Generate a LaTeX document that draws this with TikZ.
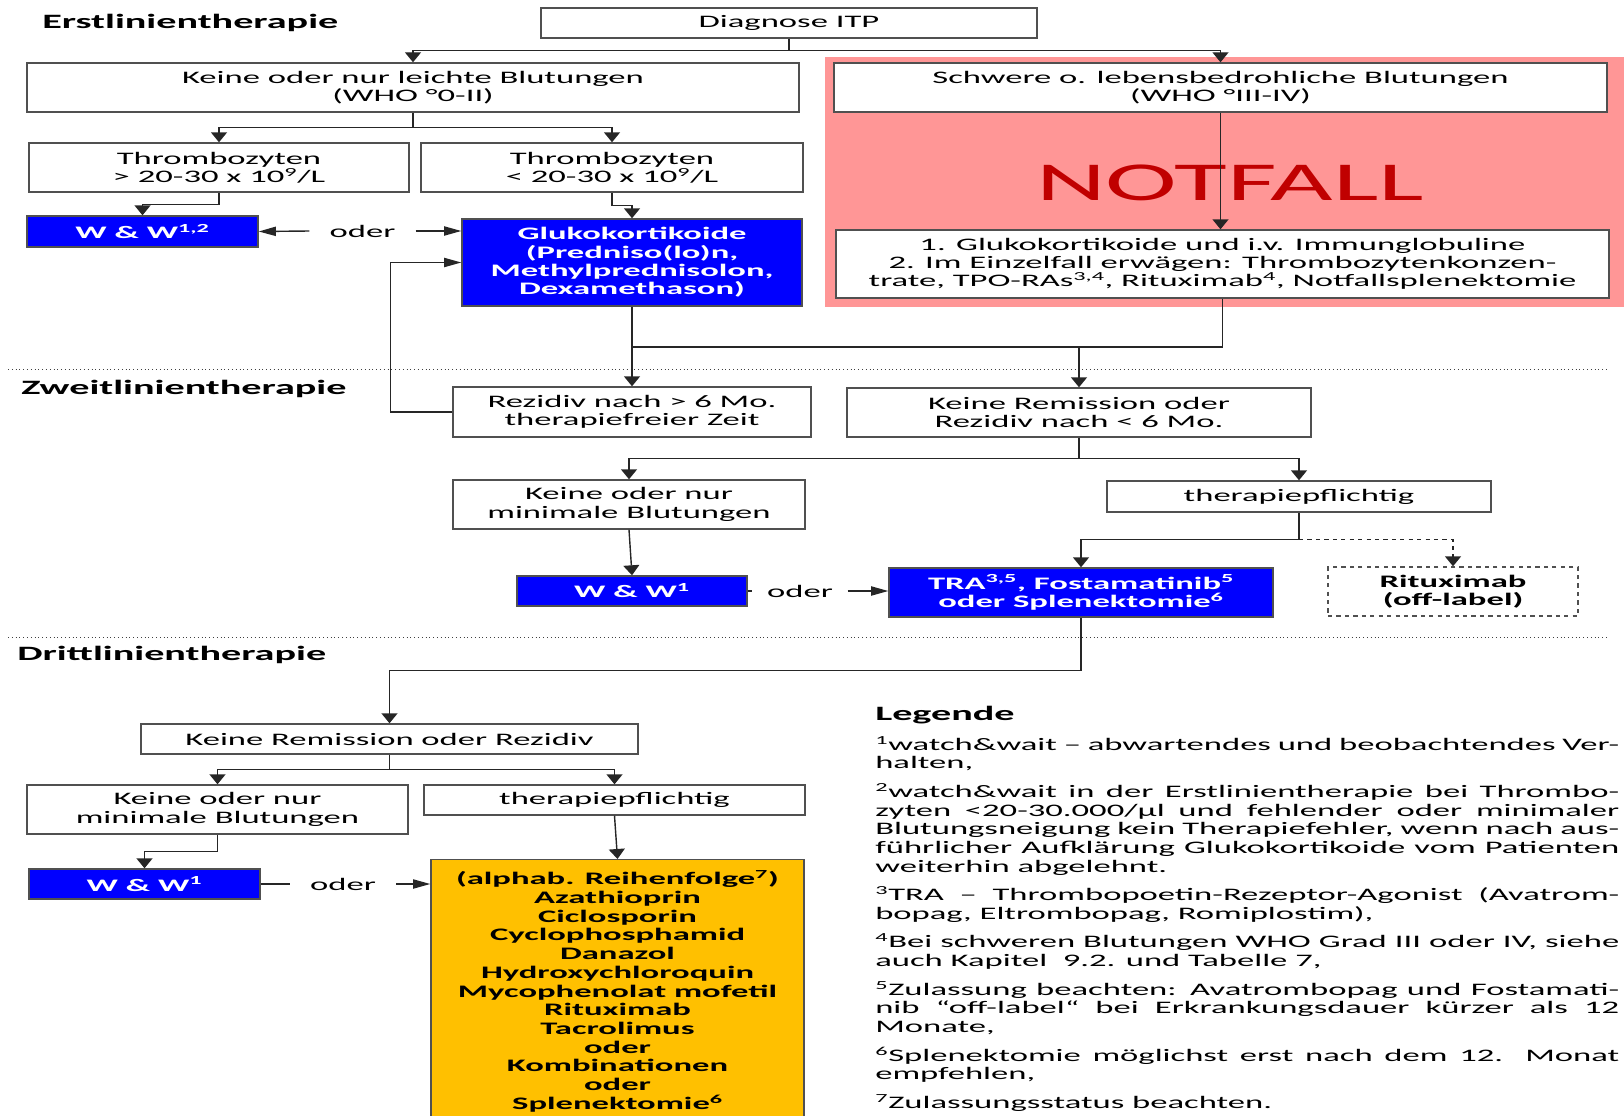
\documentclass[tikz,border=0pt]{standalone}
\usepackage{fontspec}
\setmainfont{Carlito}[FakeStretch=1.97]
\usetikzlibrary{arrows.meta, positioning, calc}
\definecolor{wwblue}{RGB}{0,0,255}
\definecolor{framegray}{RGB}{80,80,80}
\definecolor{notfallbg}{RGB}{255,150,150}
\definecolor{notfallred}{RGB}{192,0,0}
\definecolor{drittorange}{RGB}{255,192,0}
\newcommand{\boxfont}{\fontsize{12.5}{13}\selectfont}
\newlength{\legwidth}
\setlength{\legwidth}{186mm}

\begin{document}
\begin{tikzpicture}[
    x=0.25mm, y=-0.25mm,
    boxdim/.style 2 args={minimum width=#1*0.25mm, minimum height=#2*0.25mm},
    box/.style={
        rectangle,
        draw=framegray,
        line width=1pt,
        fill=white,
        align=center,
        inner sep=0pt,
        font=\boxfont
    },
    bluebox/.style={
        box,
        fill=wwblue,
        text=white,
        font=\boxfont\bfseries
    },
    drittbox/.style={
        box,
        fill=drittorange,
        anchor=north,
        inner ysep=11*0.25mm,
        font=\fontsize{12.5}{13.3}\selectfont\bfseries
    },
    phasetitle/.style={anchor=west, inner sep=0pt, font=\fontsize{14.5}{16}\selectfont\bfseries},
    oderlabel/.style={inner xsep=5mm, inner ysep=0pt, font=\boxfont},
    legendtext/.style={anchor=north west, inner sep=0pt, align=left, font=\fontsize{12.5}{13.25}\selectfont},
    line/.style={line width=1pt, draw=black!85},
    arrow/.style={line, -{Triangle[width=4mm,length=2.5mm]}},
    sidearrow/.style={line, -{Triangle[width=2.3mm,length=4.3mm]}},
    dasharrow/.style={arrow, dashed},
    sectionline/.style={dotted, line width=0.7pt, black!75}
]
\useasboundingbox (0,0) rectangle (1624,1115);

\node[phasetitle] (t1) at (42,23) {Erstlinientherapie};
\node[box, boxdim={496}{30}] (diag) at (789,23) {Diagnose ITP};
\node[box, boxdim={772}{49}] (leicht) at (413,87.5) {Keine oder nur leichte Blutungen\\(WHO °0-II)};
\node[fill=notfallbg, inner sep=0pt, boxdim={805}{250}] (area) at (1227.5,182) {};
\node[box, boxdim={773}{49}] (schwer) at (1220.5,87.5) {Schwere o. lebensbedrohliche Blutungen\\(WHO °III-IV)};
\node[font=\fontsize{39}{42}\selectfont, text=notfallred, inner sep=0pt] (notfalltxt) at (1230,183) {NOTFALL};
\node[box, boxdim={773}{68}] (notfall) at (1222.5,264) {1. Glukokortikoide und i.v. Immunglobuline\\2. Im Einzelfall erwägen: Thrombozytenkonzen-\\trate, TPO-RAs\textsuperscript{3,4}, Rituximab\textsuperscript{4}, Notfallsplenektomie};
\node[box, boxdim={380}{49}] (thrhigh) at (219,167.5) {Thrombozyten\\> 20-30 x 10\textsuperscript{9}/L};
\node[box, boxdim={382}{49}] (thrlow) at (612,167.5) {Thrombozyten\\< 20-30 x 10\textsuperscript{9}/L};
\node[bluebox, boxdim={231}{31}] (wwa) at (142.5,231.5) {W \& W\textsuperscript{1,2}};
\node[bluebox, boxdim={340}{87}] (gluko) at (632,262.5) {Glukokortikoide\\(Predniso(lo)n,\\Methylprednisolon,\\Dexamethason)};
\node[oderlabel] (odera) at (362.5,231) {oder};

\draw[sectionline] (8,369) -- (1607,369);
\node[phasetitle] (t2) at (21,389) {Zweitlinientherapie};
\node[box, boxdim={358}{50}] (rez6) at (632,412) {Rezidiv nach > 6 Mo.\\therapiefreier Zeit};
\node[box, boxdim={464}{49}] (krem6) at (1079,412.5) {Keine Remission oder\\Rezidiv nach < 6 Mo.};
\node[box, boxdim={352}{49}] (kminb) at (629,504.5) {Keine oder nur\\minimale Blutungen};
\node[box, boxdim={384}{31}] (thpfb) at (1299,496.5) {therapiepflichtig};
\node[bluebox, boxdim={230}{30}] (wwb) at (632,591) {W \& W\textsuperscript{1}};
\node[oderlabel, inner xsep=3.6mm] (oderb) at (800,591) {oder};
\node[bluebox, boxdim={384}{49}] (tra) at (1081,592.5) {TRA\textsuperscript{3,5}, Fostamatinib\textsuperscript{5}\\oder Splenektomie\textsuperscript{6}};
\node[box, dashed, boxdim={250}{49}, font=\boxfont\bfseries] (ritux) at (1453,591.5) {Rituximab\\(off-label)};

\draw[sectionline] (8,637) -- (1607,637);
\node[phasetitle] (t3) at (17,655) {Drittlinientherapie};
\node[box, boxdim={497}{30}] (krez) at (389.5,739) {Keine Remission oder Rezidiv};
\node[box, boxdim={381}{49}] (kminc) at (217.5,809.5) {Keine oder nur\\minimale Blutungen};
\node[box, boxdim={381}{30}] (thpfc) at (614.5,800) {therapiepflichtig};
\node[bluebox, boxdim={231}{30}] (wwc) at (144.5,884) {W \& W\textsuperscript{1}};
\node[oderlabel] (oderc) at (343,884) {oder};
\node[drittbox, minimum width=373*0.25mm] (dritt) at (617.5,859) {(alphab. Reihenfolge\textsuperscript{7})\\Azathioprin\\Ciclosporin\\Cyclophosphamid\\Danazol\\Hydroxychloroquin\\Mycophenolat mofetil\\Rituximab\\Tacrolimus\\oder\\Kombinationen\\oder\\Splenektomie\textsuperscript{6}};

\node[phasetitle] (leg) at (875,715) {Legende};
\node[legendtext] (legtxt) at (875,736) {%
\makebox[\legwidth][s]{\textsuperscript{1}watch\&wait – abwartendes und beobachtendes Ver-}\\
halten,\\[2.5mm]
\makebox[\legwidth][s]{\textsuperscript{2}watch\&wait in der Erstlinientherapie bei Thrombo-}\\
\makebox[\legwidth][s]{zyten <20-30.000/µl und fehlender oder minimaler}\\
\makebox[\legwidth][s]{Blutungsneigung kein Therapiefehler, wenn nach aus-}\\
\makebox[\legwidth][s]{führlicher Aufklärung Glukokortikoide vom Patienten}\\
weiterhin abgelehnt.\\[2.5mm]
\makebox[\legwidth][s]{\textsuperscript{3}TRA – Thrombopoetin-Rezeptor-Agonist (Avatrom-}\\
bopag, Eltrombopag, Romiplostim),\\[2.5mm]
\makebox[\legwidth][s]{\textsuperscript{4}Bei schweren Blutungen WHO Grad III oder IV, siehe}\\
auch Kapitel\ \ 9.2. und Tabelle 7,\\[2.5mm]
\makebox[\legwidth][s]{\textsuperscript{5}Zulassung beachten: Avatrombopag und Fostamati-}\\
\makebox[\legwidth][s]{nib “off-label“ bei Erkrankungsdauer kürzer als 12}\\
Monate,\\[2.5mm]
\makebox[\legwidth][s]{\textsuperscript{6}Splenektomie möglichst erst nach dem 12. Monat}\\
empfehlen,\\[2.5mm]
\textsuperscript{7}Zulassungsstatus beachten.};

\draw[arrow] (diag.south) -- ++(0,12) -| (leicht.north);
\draw[arrow] (diag.south) -- ++(0,12) -| (schwer.north);
\draw[arrow] (leicht.south) -- ++(0,15) -| (thrhigh.north);
\draw[arrow] (leicht.south) -- ++(0,15) -| (thrlow.north);
\draw[arrow] (thrhigh.south) -- ++(0,12) -| (wwa.north);
\draw[arrow] (thrlow.south) -- ++(0,13) -| (gluko.north);
\draw[sidearrow] (odera.west) -- (wwa.east);
\draw[sidearrow] (odera.east) -- (odera.east -| gluko.west);
\draw[arrow] (schwer.south) -- (schwer.south |- notfall.north);

\coordinate (jn) at (632,347);
\draw[arrow] (gluko.south) -- (rez6.north);
\draw[line] (notfall.south) |- (jn);
\draw[arrow] (krem6.north |- jn) -- (krem6.north);
\draw[sidearrow] (rez6.west) -- ++(-62,0) |- (gluko.west);
\draw[arrow] (krem6.south) -- ++(0,21) -| (kminb.north);
\draw[arrow] (krem6.south) -- ++(0,21) -| (thpfb.north);
\draw[arrow] (kminb.south) -- (wwb.north);
\draw[line] (wwb.east) -- (oderb.west);
\draw[sidearrow] (oderb.east) -- (oderb.east -| tra.west);
\draw[arrow] (thpfb.south) -- ++(0,27) -| (tra.north);
\draw[dasharrow] (thpfb.south) ++(0,27) -| (ritux.north);

\draw[arrow] (tra.south) -- ++(0,53) -| (krez.north);
\draw[arrow] (krez.south) -- ++(0,15) -| (kminc.north);
\draw[arrow] (krez.south) -- ++(0,15) -| (thpfc.north);
\draw[arrow] (kminc.south) -- ++(0,17) -| (wwc.north);
\draw[line] (wwc.east) -- (oderc.west);
\draw[sidearrow] (oderc.east) -- (oderc.east -| dritt.west);
\draw[arrow] (thpfc.south) -- (dritt.north);

\end{tikzpicture}
\end{document}
